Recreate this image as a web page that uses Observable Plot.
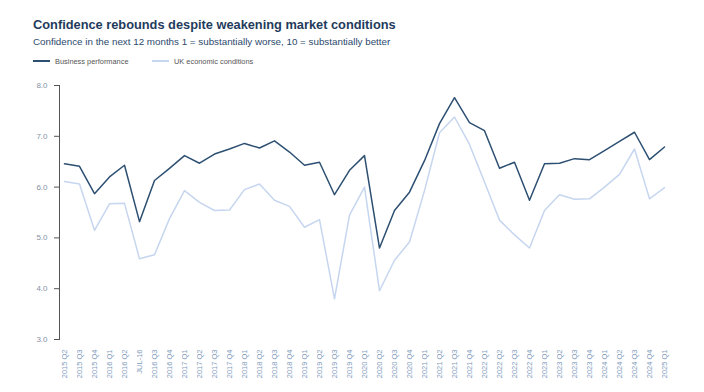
<!DOCTYPE html>
<html>
<head>
<meta charset="utf-8">
<script src="https://cdn.jsdelivr.net/npm/d3@7"></script>
<script src="https://cdn.jsdelivr.net/npm/@observablehq/plot@0.6"></script>
<style>
  html, body { margin: 0; padding: 0; background: #fff; }
  body { width: 704px; height: 392px; overflow: hidden; font-family: "Liberation Sans", Arial, Helvetica, sans-serif; }
  #header { position: relative; height: 75px; }
  #title { position: absolute; left: 33px; top: 17px; font-size: 12.8px; font-weight: bold; color: #1f3b5c; white-space: nowrap; }
  #subtitle { position: absolute; left: 33px; top: 36px; font-size: 9.8px; color: #2c4a6c; white-space: nowrap; }
  .leg { position: absolute; top: 56px; font-size: 7.4px; color: #555; white-space: nowrap; display: flex; align-items: center; height: 10px; }
  .leg span.sw { display: inline-block; width: 17px; height: 2px; margin-right: 5px; }
</style>
</head>
<body>
<div id="header">
  <div id="title">Confidence rebounds despite weakening market conditions</div>
  <div id="subtitle">Confidence in the next 12 months 1 = substantially worse, 10 = substantially better</div>
  <div class="leg" style="left:33px"><span class="sw" style="background:#2c4f72"></span>Business performance</div>
  <div class="leg" style="left:152px"><span class="sw" style="background:#c6d6ef"></span>UK economic conditions</div>
</div>
<div id="chart"></div>
<script>
const categories = [
  "2015 Q2","2015 Q3","2015 Q4","2016 Q1","2016 Q2","JUL-16","2016 Q3","2016 Q4",
  "2017 Q1","2017 Q2","2017 Q3","2017 Q4","2018 Q1","2018 Q2","2018 Q3","2018 Q4",
  "2019 Q1","2019 Q2","2019 Q3","2019 Q4","2020 Q1","2020 Q2","2020 Q3","2020 Q4",
  "2021 Q1","2021 Q2","2021 Q3","2021 Q4","2022 Q1","2022 Q2","2022 Q3","2022 Q4",
  "2023 Q1","2023 Q2","2023 Q3","2023 Q4","2024 Q1","2024 Q2","2024 Q3","2024 Q4","2025 Q1"
];
const businessPerformance = [
  6.46, 6.41, 5.87, 6.20, 6.43, 5.32, 6.13, 6.37,
  6.62, 6.47, 6.65, 6.75, 6.86, 6.77, 6.91, 6.69,
  6.43, 6.49, 5.85, 6.33, 6.62, 4.80, 5.54, 5.90,
  6.52, 7.25, 7.76, 7.27, 7.11, 6.37, 6.49, 5.74,
  6.46, 6.47, 6.56, 6.54, 6.72, 6.90, 7.08, 6.54, 6.79
];
const ukEconomicConditions = [
  6.11, 6.06, 5.15, 5.67, 5.68, 4.59, 4.67, 5.38,
  5.93, 5.70, 5.54, 5.55, 5.95, 6.06, 5.74, 5.62,
  5.21, 5.36, 3.80, 5.45, 6.00, 3.96, 4.56, 4.92,
  5.93, 7.07, 7.38, 6.84, 6.10, 5.35, 5.06, 4.80,
  5.54, 5.85, 5.76, 5.77, 6.00, 6.25, 6.75, 5.77, 5.99
];
const yTicks = [3, 4, 5, 6, 7, 8];

const rows = categories.flatMap((c, i) => [
  {cat: c, value: businessPerformance[i], series: "Business performance"},
  {cat: c, value: ukEconomicConditions[i], series: "UK economic conditions"}
]);

const chart = Plot.plot({
  width: 704,
  height: 317,
  marginLeft: 59,
  marginRight: 35,
  marginTop: 10,
  marginBottom: 53,
  style: {fontFamily: "'Liberation Sans', Arial, sans-serif", background: "#fff"},
  x: {type: "point", domain: categories, padding: 1/3},
  y: {domain: [3, 8]},
  color: {domain: ["Business performance", "UK economic conditions"], range: ["#2c4f72", "#c6d6ef"]},
  marks: [
    Plot.axisY({ticks: yTicks, tickFormat: d3.format(".1f"), tickSize: 5, tickPadding: 7, fontSize: 8, color: "#8592a6", stroke: "#555", label: null}),
    Plot.frame({anchor: "left", stroke: "#555"}),
    Plot.axisX({tickRotate: -90, tickSize: 0, tickPadding: 10, fontSize: 7.5, color: "#7f9cbd", label: null}),
    Plot.lineY(rows.filter(d => d.series === "UK economic conditions"), {x: "cat", y: "value", stroke: "series", strokeWidth: 1.5}),
    Plot.lineY(rows.filter(d => d.series === "Business performance"), {x: "cat", y: "value", stroke: "series", strokeWidth: 1.5})
  ]
});
document.getElementById("chart").appendChild(chart);
</script>
</body>
</html>
